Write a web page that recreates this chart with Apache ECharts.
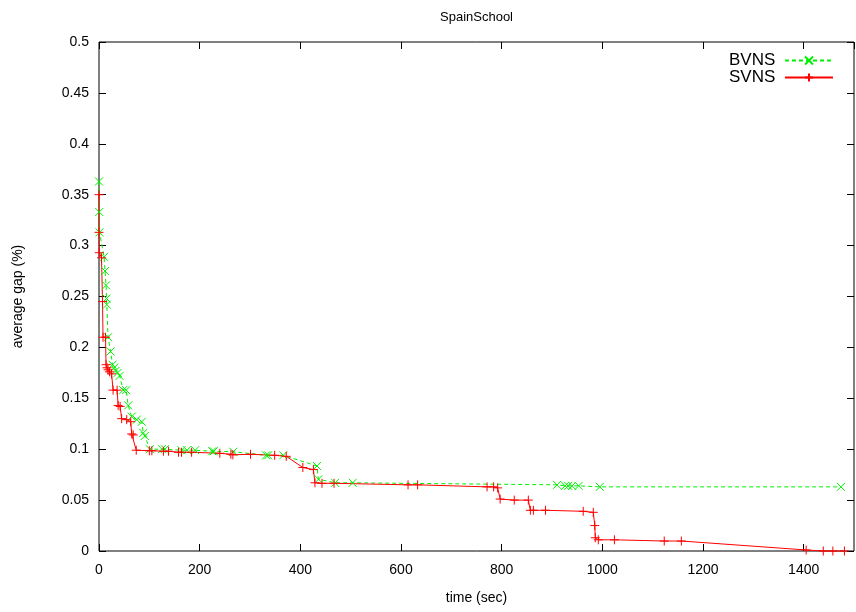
<!DOCTYPE html>
<html>
<head>
<meta charset="utf-8">
<script src="https://cdn.jsdelivr.net/npm/echarts@6/dist/echarts.min.js"></script>
<style>
  html, body { margin: 0; padding: 0; background: #fff; }
  #main { width: 856px; height: 612px; }
</style>
</head>
<body>
<div id="main"></div>
<script>
// BVNS, [time (sec), average gap]
var bvns = [
  [0, 0.363], [0.5, 0.333], [1, 0.313], [10, 0.289], [12, 0.275], [14, 0.261],
  [15, 0.248], [15.5, 0.242], [18, 0.21], [23, 0.196], [27, 0.183], [30, 0.18],
  [33, 0.177], [37, 0.175], [41, 0.172], [48, 0.158], [54, 0.158], [58, 0.143],
  [65, 0.132], [75, 0.129], [85, 0.127], [88, 0.116], [91, 0.113], [101, 0.1],
  [125, 0.1], [131, 0.1], [164, 0.099], [175, 0.099], [191, 0.099], [225, 0.098],
  [228, 0.098], [267, 0.0975], [332, 0.094], [336, 0.094], [366, 0.094],
  [433, 0.0835], [436, 0.0705], [469, 0.067], [504, 0.067], [910, 0.065],
  [926, 0.064], [932, 0.064], [940, 0.064], [953, 0.064], [995, 0.063], [1474, 0.063]
];
// SVNS, [time (sec), average gap]
var svns = [
  [0, 0.35], [0, 0.313], [0.5, 0.293], [5, 0.288], [7, 0.245], [8, 0.21], [13, 0.21],
  [14, 0.183], [16, 0.18], [18, 0.178], [21, 0.176], [25, 0.174], [28, 0.158],
  [36, 0.158], [38, 0.143], [42, 0.142], [45, 0.13], [55, 0.129], [63, 0.127],
  [65, 0.115], [68, 0.114], [74, 0.099], [100, 0.0985], [105, 0.0985], [128, 0.098],
  [138, 0.098], [158, 0.097], [164, 0.097], [184, 0.097], [240, 0.096], [262, 0.095],
  [266, 0.0945], [301, 0.095], [349, 0.094], [372, 0.093], [405, 0.082], [426, 0.08],
  [429, 0.067], [443, 0.0665], [467, 0.0665], [614, 0.065], [633, 0.065], [771, 0.063],
  [784, 0.063], [792, 0.062], [797, 0.051], [825, 0.05], [853, 0.05], [857, 0.04],
  [863, 0.04], [887, 0.04], [962, 0.039], [982, 0.038], [985, 0.025], [986, 0.013],
  [992, 0.011], [1024, 0.011], [1123, 0.0098], [1157, 0.0098], [1405, 0.001],
  [1439, 0], [1458, 0], [1481, 0]
];
var xRange = [0, 1500, 200];
var yRange = [0, 0.5, 0.05];

var font = 'Liberation Sans, Arial, sans-serif';
var myChart = echarts.init(document.getElementById('main'));

var hidden = { show: false };
var noLine = { show: false, onZero: false };
var tick = { inside: true, length: 7, lineStyle: { color: '#000' } };
var option = {
    animation: false,
    title: {
        text: 'SpainSchool',
        left: 435,
        top: 6,
        textStyle: { fontFamily: font, fontSize: 13, fontWeight: 'normal', color: '#000' }
    },
    grid: {
        left: 99, top: 42, right: 2, bottom: 61,
        show: true, borderColor: '#000', borderWidth: 1
    },
    legend: {
        orient: 'vertical',
        right: 17,
        top: 47,
        align: 'right',
        itemWidth: 48,
        itemHeight: 10,
        itemGap: 0,
        formatter: function (name) { return name + ' '; },
        textStyle: { fontFamily: font, fontSize: 17, color: '#000' },
        data: ['BVNS', 'SVNS']
    },
    xAxis: [
        {
            type: 'value', min: xRange[0], max: xRange[1], interval: xRange[2],
            name: 'time (sec)', nameLocation: 'middle', nameGap: 40,
            nameTextStyle: { fontFamily: font, fontSize: 14, color: '#000' },
            axisLine: noLine, splitLine: hidden, axisTick: tick,
            axisLabel: {
                margin: 12, showMaxLabel: false, fontFamily: font, fontSize: 14, color: '#000',
                formatter: function (v) { return String(v); }
            }
        },
        {
            type: 'value', position: 'top', min: xRange[0], max: xRange[1], interval: xRange[2],
            axisLine: noLine, splitLine: hidden, axisLabel: hidden, axisTick: tick
        }
    ],
    yAxis: [
        {
            type: 'value', min: yRange[0], max: yRange[1], interval: yRange[2],
            name: 'average gap (%)', nameLocation: 'middle', nameGap: 74,
            nameTextStyle: { fontFamily: font, fontSize: 14, color: '#000' },
            axisLine: noLine, splitLine: hidden, axisTick: tick,
            axisLabel: { margin: 10, fontFamily: font, fontSize: 14, color: '#000' }
        },
        {
            type: 'value', position: 'right', min: yRange[0], max: yRange[1], interval: yRange[2],
            axisLine: noLine, splitLine: hidden, axisLabel: hidden, axisTick: tick
        }
    ],
    series: [
        {
            name: 'BVNS',
            type: 'line',
            data: bvns,
            symbol: 'path://M0,0L8,8M8,0L0,8',
            symbolSize: 8,
            showAllSymbol: true,
            clip: false,
            lineStyle: { color: '#00ee00', width: 1, type: [4, 3] },
            itemStyle: { color: '#00ee00', borderColor: '#00ee00', borderWidth: 1 }
        },
        {
            name: 'SVNS',
            type: 'line',
            data: svns,
            symbol: 'path://M4,0L4,8M0,4L8,4',
            symbolSize: 9,
            showAllSymbol: true,
            clip: false,
            lineStyle: { color: '#ff0000', width: 1 },
            itemStyle: { color: '#ff0000', borderColor: '#ff0000', borderWidth: 1 }
        }
    ]
};
myChart.setOption(option);
</script>
</body>
</html>
